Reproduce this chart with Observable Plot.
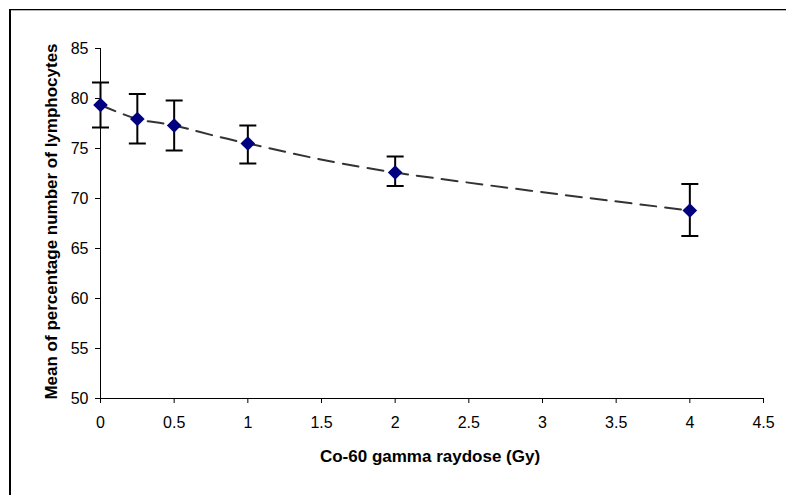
<!DOCTYPE html>
<html>
<head>
<meta charset="utf-8">
<script src="https://cdn.jsdelivr.net/npm/d3@7"></script>
<script src="https://cdn.jsdelivr.net/npm/@observablehq/plot@0.6"></script>
<style>
  html, body { margin: 0; padding: 0; background: #fff; overflow: hidden; width: 786px; height: 495px; }
  #wrap { position: relative; width: 786px; height: 495px; overflow: hidden; }
  #chart { position: absolute; left: 0; top: 0; z-index: 1; }
  #frame { position: absolute; left: 9px; top: 9px; width: 900px; height: 700px; z-index: 5;
           border-top: 1px solid #000; border-left: 2px solid #000; pointer-events: none; }
  #shade { position: absolute; left: 11px; top: 10px; width: 900px; height: 1px; background: #b4b4b4; z-index: 4; }
</style>
</head>
<body>
<div id="wrap">
  <div id="chart"></div>
  <div id="shade"></div>
  <div id="frame"></div>
</div>
<script>
// Data
const doses = [0, 0.25, 0.5, 1, 2, 4];
const means = [79.35, 77.95, 77.3, 75.5, 72.6, 68.8];
const upper = [81.6, 80.45, 79.8, 77.3, 74.2, 71.45];
const lower = [77.1, 75.5, 74.8, 73.5, 71.25, 66.25];

const xTicks = [0, 0.5, 1, 1.5, 2, 2.5, 3, 3.5, 4, 4.5];
const yTicks = [50, 55, 60, 65, 70, 75, 80, 85];

const xTitle = "Co-60 gamma raydose (Gy)";
const yTitle = "Mean of percentage number of lymphocytes";

const rows = doses.map((d, i) => ({dose: d, mean: means[i], hi: upper[i], lo: lower[i]}));

const capSymbol = {
  draw(ctx) { const w = 8.5; ctx.moveTo(-w, 0); ctx.lineTo(w, 0); }
};

const font = "'Liberation Sans', Arial, Helvetica, sans-serif";

const chart = Plot.plot({
  width: 786,
  height: 495,
  marginLeft: 100,
  marginRight: 23,
  marginTop: 48,
  marginBottom: 97,
  style: {fontFamily: font, fontSize: "16px", color: "#000", background: "transparent", overflow: "visible"},
  x: {domain: [0, 4.5], ticks: xTicks, tickFormat: d => String(d), tickSize: 5, tickPadding: 13, label: null},
  y: {domain: [50, 85], ticks: yTicks, tickFormat: d => String(d), tickSize: 5, tickPadding: 7, label: null},
  marks: [
    Plot.ruleY([50], {stroke: "#000", strokeWidth: 1}),
    Plot.ruleX([0], {stroke: "#000", strokeWidth: 1}),
    Plot.line(rows, {x: "dose", y: "mean", curve: "cardinal", stroke: "#333", strokeWidth: 2, strokeDasharray: "16,9"}),
    Plot.ruleX(rows, {x: "dose", y1: "lo", y2: "hi", stroke: "#000", strokeWidth: 2}),
    Plot.dot(rows, {x: "dose", y: "hi", symbol: capSymbol, r: 1, stroke: "#000", strokeWidth: 2, fill: "none"}),
    Plot.dot(rows, {x: "dose", y: "lo", symbol: capSymbol, r: 1, stroke: "#000", strokeWidth: 2, fill: "none"}),
    Plot.dot(rows, {x: "dose", y: "mean", symbol: "diamond2", r: 6.6, fill: "#000080", stroke: "none"}),
    Plot.text([xTitle], {frameAnchor: "bottom", text: d => d, textAnchor: "middle", lineAnchor: "middle", dx: -2, dy: 58, fontSize: 17, fontWeight: "bold", fill: "#000"}),
    Plot.text([yTitle], {frameAnchor: "left", text: d => d, textAnchor: "middle", lineAnchor: "middle", rotate: -90, dx: -49, dy: -2, fontSize: 17, fontWeight: "bold", fill: "#000"})
  ]
});
document.getElementById("chart").appendChild(chart);
</script>
</body>
</html>
